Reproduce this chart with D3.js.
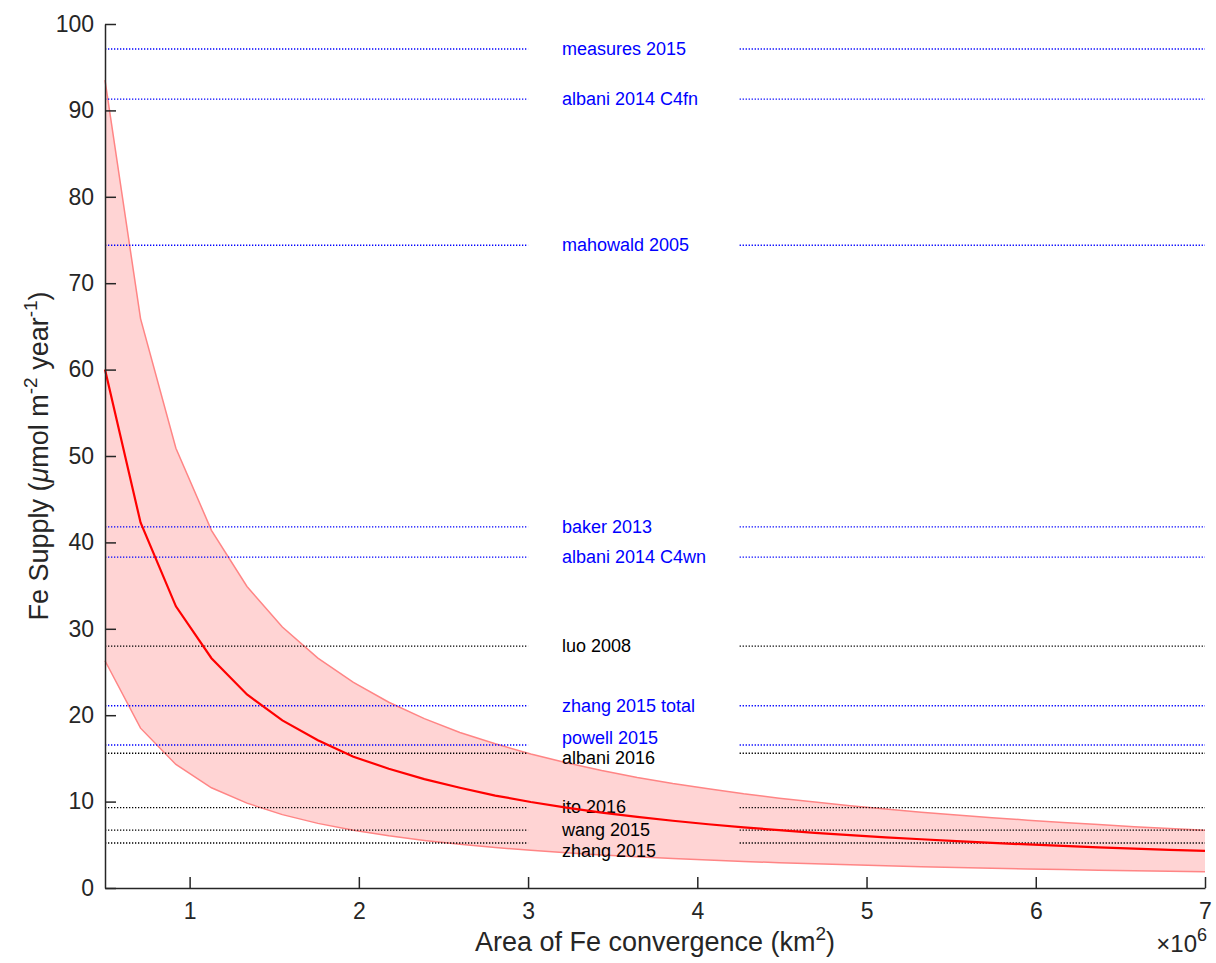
<!DOCTYPE html>
<html>
<head>
<meta charset="utf-8">
<script src="https://cdn.jsdelivr.net/npm/d3@7"></script>
<style>
  body { margin: 0; background: #fff; }
  text { font-family: "Liberation Sans", Arial, Helvetica, sans-serif; }
</style>
</head>
<body>
<div id="main"></div>
<script>

// area of Fe convergence, in units of 10^6 km2
var area = [0.500, 0.710, 0.919, 1.129, 1.339, 1.548, 1.758, 1.968, 2.177, 2.387, 2.597,
	2.806, 3.016, 3.226, 3.435, 3.645, 3.855, 4.065, 4.274, 4.484, 4.694, 4.903,
	5.113, 5.323, 5.532, 5.742, 5.952, 6.161, 6.371, 6.581, 6.790, 7.000]

// Fe supply, umol m-2 yr-1
var supplyMid = [60.0, 42.3, 32.6, 26.6, 22.4, 19.4, 17.1, 15.2, 13.8, 12.6, 11.6,
	10.7, 9.95, 9.30, 8.73, 8.23, 7.78, 7.38, 7.02, 6.69, 6.39, 6.12,
	5.87, 5.64, 5.42, 5.22, 5.04, 4.87, 4.71, 4.56, 4.42, 4.29]
var supplyHigh = [93.5, 65.9, 50.9, 41.4, 34.9, 30.2, 26.6, 23.8, 21.5, 19.6, 18.0,
	16.7, 15.5, 14.5, 13.6, 12.8, 12.1, 11.5, 10.9, 10.4, 9.96, 9.53,
	9.14, 8.78, 8.45, 8.14, 7.85, 7.59, 7.34, 7.10, 6.89, 6.68]
var supplyLow = [26.3, 18.5, 14.3, 11.6, 9.82, 8.49, 7.48, 6.68, 6.04, 5.51, 5.06,
	4.69, 4.36, 4.08, 3.83, 3.61, 3.41, 3.23, 3.08, 2.93, 2.80, 2.68,
	2.57, 2.47, 2.38, 2.29, 2.21, 2.13, 2.06, 2.00, 1.94, 1.88]

// reference estimates
var refNames = ["measures 2015", "albani 2014 C4fn", "mahowald 2005", "baker 2013",
	"albani 2014 C4wn", "luo 2008", "zhang 2015 total", "powell 2015", "albani 2016",
	"ito 2016", "wang 2015", "zhang 2015"]
var refValues = [97.1, 91.3, 74.4, 41.8, 38.3, 28.0, 21.1, 16.55, 15.6, 9.3, 6.7, 5.2]
var refGroup = ["b", "b", "b", "b", "b", "k", "b", "b", "k", "k", "k", "k"]

var xTicks = [1, 2, 3, 4, 5, 6, 7]
var yTicks = [0, 10, 20, 30, 40, 50, 60, 70, 80, 90, 100]

// label nudges so crowded labels don't overlap (px)
var labelNudge = { "powell 2015": -7, "albani 2016": 4, "ito 2016": -1, "zhang 2015": 8 }

var margin = { top: 24, left: 105, right: 11, bottom: 75 },
	W = 1216, H = 963,
	w = W - margin.left - margin.right,
	h = H - margin.top - margin.bottom

var svg = d3.select("#main")
	.append("svg")
	.attr("width", W)
	.attr("height", H)

var g = svg.append("g")
	.attr("transform", "translate(" + margin.left + "," + margin.top + ")")

var x = d3.scaleLinear().domain([0.5, 7]).range([0, w])
var y = d3.scaleLinear().domain([0, 100]).range([h, 0])

var pts = area.map(function(a, i) {
	return { a: a, mid: supplyMid[i], hi: supplyHigh[i], lo: supplyLow[i] }
})

// shaded band
g.append("path")
	.datum(pts)
	.attr("d", d3.area().x(function(d) { return x(d.a) }).y0(function(d) { return y(d.lo) }).y1(function(d) { return y(d.hi) }))
	.attr("fill", "#ff0000")
	.attr("fill-opacity", 0.17)
	.attr("stroke", "none")

g.append("path")
	.datum(pts)
	.attr("d", d3.line().x(function(d) { return x(d.a) }).y(function(d) { return y(d.hi) }))
	.attr("fill", "none")
	.attr("stroke", "#ff8585")
	.attr("stroke-width", 1.5)

g.append("path")
	.datum(pts)
	.attr("d", d3.line().x(function(d) { return x(d.a) }).y(function(d) { return y(d.lo) }))
	.attr("fill", "none")
	.attr("stroke", "#ff8585")
	.attr("stroke-width", 1.5)

// reference lines, broken around the labels
var gapStart = 3.0, gapEnd = 4.25, labelAt = 3.2
var refs = refNames.map(function(n, i) {
	return { name: n, v: refValues[i], col: refGroup[i] == "b" ? "#0000ff" : "#000000" }
})

var rg = g.selectAll(".ref")
	.data(refs)
	.enter()
	.append("g")
	.attr("class", "ref")

rg.append("line")
	.attr("x1", x(0.5)).attr("x2", x(gapStart))
	.attr("y1", function(d) { return y(d.v) }).attr("y2", function(d) { return y(d.v) })
rg.append("line")
	.attr("x1", x(gapEnd)).attr("x2", x(7))
	.attr("y1", function(d) { return y(d.v) }).attr("y2", function(d) { return y(d.v) })
rg.selectAll("line")
	.attr("stroke", function() { return d3.select(this.parentNode).datum().col })
	.attr("stroke-width", 1.4)
	.attr("stroke-dasharray", "1.3,1.7")

rg.append("text")
	.attr("x", x(labelAt))
	.attr("y", function(d) { return y(d.v) + (labelNudge[d.name] || 0) })
	.attr("dy", "0.35em")
	.attr("fill", function(d) { return d.col })
	.style("font-size", "18px")
	.text(function(d) { return d.name })

// mean curve
g.append("path")
	.datum(pts)
	.attr("d", d3.line().x(function(d) { return x(d.a) }).y(function(d) { return y(d.mid) }))
	.attr("fill", "none")
	.attr("stroke", "#ff0000")
	.attr("stroke-width", 2.2)

// axes (MATLAB style: ticks inward, no box)
var xAxis = g.append("g")
	.attr("transform", "translate(0," + h + ")")
	.call(d3.axisBottom(x).tickValues(xTicks).tickFormat(d3.format("d")).tickSize(-11).tickSizeOuter(0).tickPadding(15))
var yAxis = g.append("g")
	.call(d3.axisLeft(y).tickValues(yTicks).tickSize(-11).tickSizeOuter(0).tickPadding(11))

svg.selectAll(".domain").attr("stroke", "#262626").attr("stroke-width", 1.5)
svg.selectAll(".tick line").attr("stroke", "#262626").attr("stroke-width", 1.5)
svg.selectAll(".tick text")
	.attr("fill", "#262626")
	.style("font-size", "23px")
	.style("font-family", "'Liberation Sans', Arial, sans-serif")

// exponent
var ex = svg.append("text")
	.attr("x", margin.left + w + 2)
	.attr("y", margin.top + h + 64)
	.attr("text-anchor", "end")
	.attr("fill", "#262626")
	.style("font-size", "24px")
ex.append("tspan").text("\u00d710")
ex.append("tspan").attr("dy", -11).style("font-size", "18px").text("6")

// x label
var xl = svg.append("text")
	.attr("x", margin.left + w / 2)
	.attr("y", H - 12)
	.attr("text-anchor", "middle")
	.attr("fill", "#262626")
	.style("font-size", "27px")
xl.append("tspan").text("Area of Fe convergence (km")
xl.append("tspan").attr("dy", -11).style("font-size", "19px").text("2")
xl.append("tspan").attr("dy", 11).text(")")

// y label
var yl = svg.append("text")
	.attr("transform", "translate(48," + (margin.top + h / 2) + ") rotate(-90)")
	.attr("text-anchor", "middle")
	.attr("fill", "#262626")
	.style("font-size", "27px")
yl.append("tspan").text("Fe Supply (")
yl.append("tspan").style("font-style", "italic").text("\u03bc")
yl.append("tspan").text("mol m")
yl.append("tspan").attr("dy", -11).style("font-size", "19px").text("-2")
yl.append("tspan").attr("dy", 11).text(" year")
yl.append("tspan").attr("dy", -11).style("font-size", "19px").text("-1")
yl.append("tspan").attr("dy", 11).text(")")

</script>
</body>
</html>
